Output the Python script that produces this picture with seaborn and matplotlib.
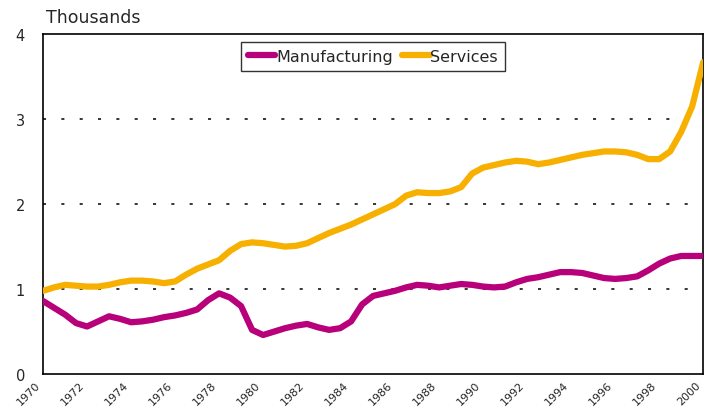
import numpy as np
import pandas as pd
import matplotlib
matplotlib.use("Agg")
import matplotlib.pyplot as plt
import matplotlib.transforms as mtransforms
import seaborn as sns

years = np.arange(1970, 2000.01, 0.5)
manufacturing = [0.86, 0.78, 0.70, 0.60, 0.56, 0.62, 0.68, 0.65, 0.61, 0.62,
                 0.64, 0.67, 0.69, 0.72, 0.76, 0.87, 0.95, 0.90, 0.80, 0.52,
                 0.46, 0.50, 0.54, 0.57, 0.59, 0.55, 0.52, 0.54, 0.62, 0.82,
                 0.92, 0.95, 0.98, 1.02, 1.05, 1.04, 1.02, 1.04, 1.06, 1.05,
                 1.03, 1.02, 1.03, 1.08, 1.12, 1.14, 1.17, 1.20, 1.20, 1.19,
                 1.16, 1.13, 1.12, 1.13, 1.15, 1.22, 1.30, 1.36, 1.39, 1.39,
                 1.39]
services = [0.98, 1.02, 1.05, 1.04, 1.03, 1.03, 1.05, 1.08, 1.10, 1.10,
            1.09, 1.07, 1.09, 1.17, 1.24, 1.29, 1.34, 1.45, 1.53, 1.55,
            1.54, 1.52, 1.50, 1.51, 1.54, 1.60, 1.66, 1.71, 1.76, 1.82,
            1.88, 1.94, 2.00, 2.10, 2.14, 2.13, 2.13, 2.15, 2.20, 2.36,
            2.43, 2.46, 2.49, 2.51, 2.50, 2.47, 2.49, 2.52, 2.55, 2.58,
            2.60, 2.62, 2.62, 2.61, 2.58, 2.53, 2.53, 2.62, 2.85, 3.15,
            3.67]
series_names = ["Manufacturing", "Services"]
x_ticks = list(range(1970, 2001, 2))
y_ticks = [0, 1, 2, 3, 4]

df = pd.DataFrame({
    "year": np.concatenate([years, years]),
    "value": manufacturing + services,
    "series": [series_names[0]] * len(years) + [series_names[1]] * len(years),
})

sns.set_theme(style="white")
plt.rcParams["font.family"] = ["DejaVu Sans"]

fig = plt.figure(figsize=(7.06, 4.14), dpi=100)
ax = fig.add_axes([0.061, 0.094, 0.935, 0.821])

for y in [1, 2, 3]:
    ax.axhline(y, color="black", lw=1.1, linestyle=(0, (2, 10)), zorder=1)

palette = {"Manufacturing": "#B8007A", "Services": "#F7B000"}
sns.lineplot(data=df, x="year", y="value", hue="series", palette=palette,
             linewidth=4.5, ax=ax, zorder=3, legend=True)
for line in ax.get_lines():
    line.set_solid_joinstyle("round")
    line.set_solid_capstyle("round")

ax.set_xlim(1970, 2000)
ax.set_ylim(0, 4)
ax.set_xticks(x_ticks)
ax.set_yticks(y_ticks)
ax.set_yticklabels([str(t) for t in y_ticks], fontsize=10.5)
ax.tick_params(axis="y", length=0, pad=13)
ax.tick_params(axis="x", length=0, pad=4)
ax.set_xticklabels([str(t) for t in x_ticks], rotation=45, ha="right",
                   rotation_mode="anchor", fontsize=8)
offset = mtransforms.ScaledTranslation(-8 / 100, 0, fig.dpi_scale_trans)
for lab in ax.get_xticklabels():
    lab.set_transform(lab.get_transform() + offset)
ax.set_xlabel("")
ax.set_ylabel("")
for s in ax.spines.values():
    s.set_color("black")
    s.set_linewidth(1.2)

fig.text(0.065, 0.957, "Thousands", fontsize=12.5, ha="left", va="center")

leg = ax.legend(loc="center", bbox_to_anchor=(0.50, 0.935), ncol=2,
                frameon=True, fontsize=11.5, handlelength=1.7,
                handletextpad=0.05, columnspacing=0.6, borderpad=0.45,
                fancybox=False, edgecolor="black")
leg.get_frame().set_linewidth(1.0)
for h in leg.get_lines():
    h.set_linewidth(4.5)

fig.savefig("out.png", dpi=100)
